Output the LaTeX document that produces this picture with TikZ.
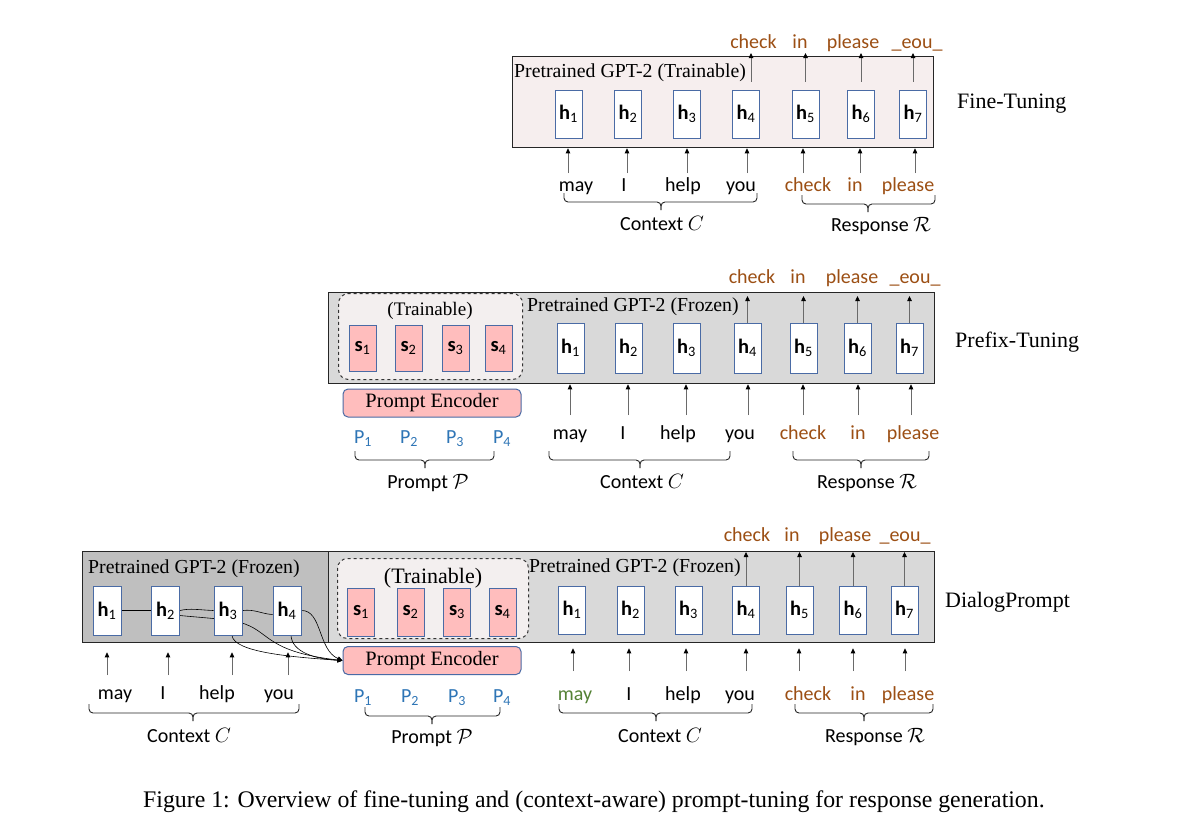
\documentclass[tikz,border=0pt]{standalone}
\usepackage{fontspec}
\setmainfont{Liberation Serif}
\newfontfamily\cfont{Carlito}
\usetikzlibrary{arrows.meta}
\pgfdeclarelayer{back}
\pgfdeclarelayer{mid}
\pgfsetlayers{back,mid,main}
\definecolor{hblue}{HTML}{4A6BA5}
\definecolor{spink}{HTML}{FFBDBD}
\definecolor{brn}{HTML}{9C4F14}
\definecolor{pblue}{HTML}{2E75B6}
\definecolor{mgreen}{HTML}{548235}
\definecolor{ftpink}{HTML}{F6EEEE}
\definecolor{lgray}{HTML}{D9D9D9}
\definecolor{dgray}{HTML}{BFBFBF}
\definecolor{trfill}{HTML}{F3EFEF}
\definecolor{arrgray}{HTML}{6A6A6A}
\definecolor{framec}{HTML}{262626}
\newcommand\wf{\cfont\fontsize{20}{24}\selectfont}
\newcommand\hf{\cfont\fontsize{20.5}{22}\selectfont}
\newcommand\tf{\fontsize{19.8}{22}\selectfont}
\newcommand\brc[4]{%
  \draw[brcs] (#1,#3) |- (#4,#3+9) -- (#4,#3+17);
  \draw[brcs] (#2,#3) |- (#4,#3+9) -- (#4,#3+17);}
\tikzset{
 panel/.style={draw=framec, line width=1.3pt, anchor=north west, inner sep=0},
 hb/.style={draw=hblue, line width=1pt, fill=white, minimum width=27, minimum height=48, inner sep=0, font=\hf},
 sb/.style={hb, fill=spink},
 penc/.style={draw=hblue, line width=1pt, fill=spink, rounded corners=5pt, minimum width=178, minimum height=28, inner sep=0, font=\fontsize{20.4}{24}\selectfont},
 trbox/.style={draw=black!80, dashed, line width=1pt, fill=trfill, rounded corners=10pt, anchor=north west, inner sep=0},
 wd/.style={font=\wf, inner sep=0, anchor=base},
 ow/.style={wd, text=brn},
 pw/.style={wd, text=pblue},
 arr/.style={draw=arrgray, line width=0.8pt, -{Triangle[length=5pt,width=4.5pt,color=black]}},
 crv/.style={draw=black, line width=0.6pt},
 crva/.style={crv, -{Triangle[length=5pt,width=4.5pt]}},
 brcs/.style={draw=black!85, line width=0.9pt, rounded corners=4pt},
 ttl/.style={font=\tf, inner sep=0, anchor=base west},
 side/.style={font=\fontsize{22}{26}\selectfont, inner sep=0, anchor=base west},
}
\begin{document}
\begin{tikzpicture}[x=1pt,y=-1pt]
\begin{pgfonlayer}{back}
\path[fill=white] (0,0) rectangle (1193,839);
\end{pgfonlayer}
\useasboundingbox (0,0) rectangle (1193,839);

% ================= Panel 1: Fine-Tuning =================
\begin{pgfonlayer}{back}
\node[panel, fill=ftpink, minimum width=421, minimum height=91] (ft) at (512,56) {};
\end{pgfonlayer}
\node[ttl] (ftt) at (514,77) {Pretrained GPT-2 (Trainable)};
\foreach \i/\x in {1/568.5,2/628,3/687,4/746,5/805.5,6/861,7/913}
  \node[hb] (a\i) at (\x,114) {\textbf{h}\textsubscript{\i}};
\node[ow] (ao1) at (753.5,48) {check};
\node[ow] (ao2) at (800,48) {in};
\node[ow] (ao3) at (853,48) {please};
\node[ow] (ao4) at (917,48) {\_eou\_};
\draw[arr] ([xshift=5pt,yshift=8pt]a4.north) -- ([xshift=5pt,yshift=3pt]a4.north |- ft.north);
\foreach \i in {5,6,7}
  \draw[arr] ([yshift=8pt]a\i.north) -- ([yshift=3pt]a\i.north |- ft.north);
\foreach \i/\x in {1/568,2/627,3/687,4/747,5/803,6/860,7/915}{
  \coordinate (ai\i) at (\x,173);
  \draw[arr] (ai\i) -- (ai\i |- ft.south);}
\node[wd] (aw1) at (576,191) {may};
\node[wd] (aw2) at (624,191) {I};
\node[wd] (aw3) at (683,191) {help};
\node[wd] (aw4) at (741,191) {you};
\node[ow] (aw5) at (808,191) {check};
\node[ow] (aw6) at (855,191) {in};
\node[ow] (aw7) at (908,191) {please};
\brc{564}{757}{193}{661}
\brc{802}{935}{195}{868}
\node[wd] (acl) at (662,230) {Context $C$};
\node[wd] (arl) at (881,231) {Response $\mathcal{R}$};
\node[side] (ftl) at (957,108) {Fine-Tuning};

% ================= Panel 2: Prefix-Tuning =================
\begin{pgfonlayer}{back}
\node[panel, fill=lgray, minimum width=606, minimum height=91] (pt) at (328,292) {};
\end{pgfonlayer}
\node[trbox, minimum width=184, minimum height=86] (ptr) at (338,293) {};
\node[inner sep=0, anchor=base, font=\fontsize{19.1}{22}\selectfont] (ptrt) at (430,315) {(Trainable)};
\foreach \i/\x in {1/362.5,2/408.5,3/455.5,4/498.5}
  \node[sb, minimum height=46] (bs\i) at (\x,348) {\textbf{s}\textsubscript{\i}};
\node[ttl] (ptt) at (527,311) {Pretrained GPT-2 (Frozen)};
\foreach \i/\x in {1/570.5,2/628.5,3/686.5,4/747.5,5/803.5,6/857.5,7/909.5}
  \node[hb, minimum height=50] (b\i) at (\x,348) {\textbf{h}\textsubscript{\i}};
\node[ow] (bo1) at (752,283) {check};
\node[ow] (bo2) at (798,283) {in};
\node[ow] (bo3) at (852,283) {please};
\node[ow] (bo4) at (915,283) {\_eou\_};
\foreach \i in {4,5,6,7}
  \draw[arr] (b\i.north) -- ([yshift=-4pt]b\i.north |- pt.north);
\foreach \i/\x in {1/570,2/628,3/686,4/748,5/803,6/858,7/911}{
  \coordinate (bi\i) at (\x,415);
  \draw[arr] (bi\i) -- (bi\i |- pt.south);}
\node[wd] (bw1) at (570,439) {may};
\node[wd] (bw2) at (623,439) {I};
\node[wd] (bw3) at (678,439) {help};
\node[wd] (bw4) at (740,439) {you};
\node[ow] (bw5) at (803,439) {check};
\node[ow] (bw6) at (858,439) {in};
\node[ow] (bw7) at (913,439) {please};
\node[penc] (pe2) at (432,403) {Prompt Encoder};
\foreach \i/\x in {1/363,2/409,3/455,4/502}
  \node[pw] (bp\i) at (\x,443) {P\textsubscript{\i}};
\brc{355}{494}{451}{425}
\brc{549}{730}{451}{640}
\brc{793}{929}{451}{861}
\node[wd] (bpl) at (428,488) {Prompt $\mathcal{P}$};
\node[wd] (bcl) at (642,488) {Context $C$};
\node[wd] (brl) at (867,488) {Response $\mathcal{R}$};
\node[side] (ptl) at (955,347) {Prefix-Tuning};

% ================= Panel 3: DialogPrompt =================
\begin{pgfonlayer}{back}
\node[panel, fill=dgray, minimum width=246, minimum height=91] (dl) at (82,551) {};
\node[panel, fill=lgray, minimum width=606, minimum height=91] (dr) at (328,551) {};
\end{pgfonlayer}
\node[trbox, minimum width=191, minimum height=80] (dtr) at (337,558) {};
\node[inner sep=0, anchor=base, font=\fontsize{22}{26}\selectfont] (dtrt) at (433,583) {(Trainable)};
\foreach \i/\x in {1/361,2/410.5,3/457,4/502.5}
  \node[sb] (cs\i) at (\x,612) {\textbf{s}\textsubscript{\i}};
\node[ttl] (dlt) at (88,573) {Pretrained GPT-2 (Frozen)};
\node[ttl] (drt) at (529,572) {Pretrained GPT-2 (Frozen)};
\foreach \i/\x in {1/107,2/165.5,3/228,4/287}
  \node[hb, minimum width=28, minimum height=49] (l\i) at (\x,610.5) {\textbf{h}\textsubscript{\i}};
\foreach \i/\x in {1/572,2/630.5,3/688.5,4/746,5/799.5,6/853,7/904.5}
  \node[hb] (c\i) at (\x,610) {\textbf{h}\textsubscript{\i}};
\node[penc] (pe3) at (432,660.5) {Prompt Encoder};
\begin{pgfonlayer}{mid}
\draw[crv] (l1.east) -- (l2.west);
\draw[crv] (l2.east) .. controls (190,608) and (200,610) .. (l3.west);
\draw[crva] ([yshift=-5pt]l2.east) .. controls (205,618) and (230,619) .. (245,624) .. controls (270,633) and (268,652) .. (pe3.west);
\draw[crv] (l3.east) .. controls (255,609) and (262,614) .. ([yshift=-4pt]l4.west);
\draw[crva] ([xshift=4pt]l3.south) .. controls (234,652) and (290,657) .. (pe3.west);
\draw[crva] ([xshift=4pt]l4.south) .. controls (292,652) and (315,659) .. (pe3.west);
\draw[crva] (l4.east) .. controls (322,610) and (318,650) .. (pe3.west);
\end{pgfonlayer}
\node[ow] (co1) at (747,541) {check};
\node[ow] (co2) at (792,541) {in};
\node[ow] (co3) at (845,541) {please};
\node[ow] (co4) at (905,541) {\_eou\_};
\foreach \i in {4,5,6,7}
  \draw[arr] (c\i.north) -- ([yshift=-1pt]c\i.north |- dr.north);
\foreach \i/\x in {1/107,2/168,3/232,4/288}{
  \coordinate (li\i) at (\x,675);
  \draw[arr] (li\i) -- ([yshift=-9pt]li\i |- dl.south);}
\foreach \i/\x in {1/573,2/629,3/686,4/746,5/799,6/853,7/905}{
  \coordinate (ci\i) at (\x,671);
  \draw[arr] (ci\i) -- ([yshift=-5pt]ci\i |- dr.south);}
\node[wd] (lw1) at (115,699) {may};
\node[wd] (lw2) at (163,699) {I};
\node[wd] (lw3) at (217,699) {help};
\node[wd] (lw4) at (279,699) {you};
\node[wd, text=mgreen] (cw1) at (575,700) {may};
\node[wd] (cw2) at (629,700) {I};
\node[wd] (cw3) at (683,700) {help};
\node[wd] (cw4) at (740,700) {you};
\node[ow] (cw5) at (808,700) {check};
\node[ow] (cw6) at (858,700) {in};
\node[ow] (cw7) at (908,700) {please};
\foreach \i/\x in {1/363,2/410,3/457,4/502}
  \node[pw] (cp\i) at (\x,702) {P\textsubscript{\i}};
\brc{89}{299}{704}{193}
\brc{365}{500}{707}{432}
\brc{559}{752}{704}{656}
\brc{795}{933}{704}{864}
\node[wd] (lcl) at (189,742) {Context $C$};
\node[wd] (cpl) at (432,743) {Prompt $\mathcal{P}$};
\node[wd] (ccl) at (660,742) {Context $C$};
\node[wd] (crl) at (875,742) {Response $\mathcal{R}$};
\node[side] (dpl) at (945,607) {DialogPrompt};

% ================= Caption =================
\node[inner sep=0, anchor=base west, font=\fontsize{23.8}{28}\selectfont] (cap) at (143,807) {Figure 1: Overview of fine-tuning and (context-aware) prompt-tuning for response generation.};
\end{tikzpicture}
\end{document}
